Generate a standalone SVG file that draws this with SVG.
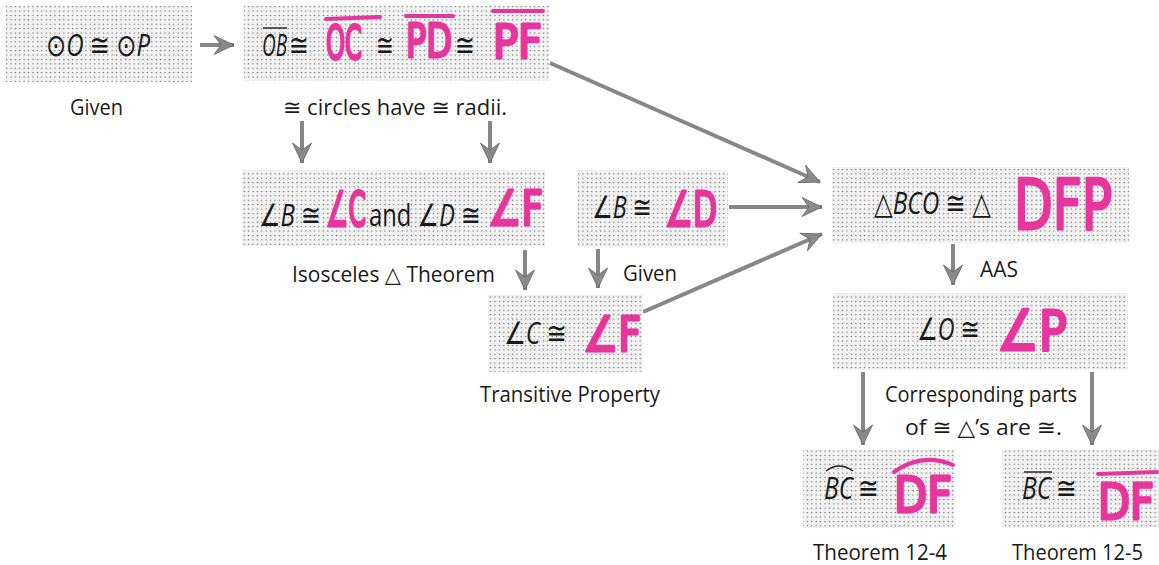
<svg xmlns="http://www.w3.org/2000/svg" width="1159" height="565" viewBox="0 0 1159 565">
<defs>
  <pattern id="dots" width="4.4" height="4.4" patternUnits="userSpaceOnUse">
    <rect width="4.4" height="4.4" fill="#f3f3f3"/>
    <circle cx="2.2" cy="2.2" r="0.75" fill="#6e6e6e"/>
  </pattern>
  <marker id="ah" markerUnits="userSpaceOnUse" viewBox="-21 -11 22 22" refX="0" refY="0" markerWidth="22" markerHeight="22" orient="auto">
    <path d="M0,0 L-20,-9.5 L-13,0 L-20,9.5 Z" fill="#8a8a8a" stroke="#666666" stroke-width="0.8"/>
  </marker>
  <style>
    .box { fill: url(#dots); }
    .lbl { font-family: "Open Sans", "Noto Sans", "DejaVu Sans", sans-serif; font-size: 22px; fill: #1a1a1a; }
    .m { font-family: "Open Sans", "DejaVu Sans", sans-serif; font-size: 31px; fill: #1a1a1a; }
    .i { font-style: italic; }
    .pk { font-family: "DejaVu Sans", "Liberation Sans", sans-serif; font-weight: normal; fill: #e6369e; stroke: #e6369e; stroke-width: 3; stroke-linejoin: round; stroke-linecap: round; }
    .pl { stroke: #e6369e; stroke-width: 4; stroke-linecap: round; fill: none; }
    .bl { stroke: #1a1a1a; stroke-width: 1.4; fill: none; }
    .conn line { stroke: #878787; stroke-width: 4; marker-end: url(#ah); }
  </style>
</defs>
<rect width="1159" height="565" fill="#ffffff"/>

<g id="connectors" class="conn">
  <line x1="200" y1="45" x2="234" y2="45"/>
  <line x1="550" y1="63" x2="820" y2="182"/>
  <line x1="302" y1="121" x2="302" y2="163"/>
  <line x1="490" y1="121" x2="490" y2="163"/>
  <line x1="525" y1="250" x2="525" y2="290"/>
  <line x1="598" y1="249" x2="598" y2="288"/>
  <line x1="729" y1="207" x2="822" y2="207"/>
  <line x1="643" y1="312" x2="822" y2="234"/>
  <line x1="953" y1="244" x2="953" y2="285"/>
  <line x1="863" y1="372" x2="863" y2="445"/>
  <line x1="1092" y1="372" x2="1092" y2="445"/>
</g>

<g id="n1">
  <rect class="box" x="6" y="6" width="186" height="76"/>
  <text class="m" x="46" y="56" textLength="104" lengthAdjust="spacingAndGlyphs">⊙<tspan class="i">O</tspan> ≅ ⊙<tspan class="i">P</tspan></text>
  <text class="lbl" x="70" y="115" textLength="53" lengthAdjust="spacingAndGlyphs">Given</text>
</g>

<g id="n2">
  <rect class="box" x="244" y="6" width="305" height="75"/>
  <line class="bl" x1="263" y1="28" x2="287" y2="28"/>
  <text class="m i" x="262" y="56" textLength="25" lengthAdjust="spacingAndGlyphs">OB</text>
  <text class="m" x="289" y="56" textLength="20" lengthAdjust="spacingAndGlyphs">≅</text>
  <line class="pl" x1="326" y1="19" x2="380" y2="17"/>
  <text class="pk" x="326" y="59" font-size="46" textLength="36" lengthAdjust="spacingAndGlyphs">OC</text>
  <text class="m" x="376" y="56" textLength="18" lengthAdjust="spacingAndGlyphs">≅</text>
  <line class="pl" x1="406" y1="16" x2="453" y2="16"/>
  <text class="pk" x="406" y="57" font-size="46" textLength="46" lengthAdjust="spacingAndGlyphs">PD</text>
  <text class="m" x="455" y="56" textLength="20" lengthAdjust="spacingAndGlyphs">≅</text>
  <line class="pl" x1="493" y1="11" x2="543" y2="11"/>
  <text class="pk" x="493" y="58" font-size="46" textLength="49" lengthAdjust="spacingAndGlyphs">PF</text>
  <text class="lbl" x="283" y="115" textLength="224" lengthAdjust="spacingAndGlyphs">≅ circles have ≅ radii.</text>
</g>

<g id="n3">
  <rect class="box" x="242" y="170" width="303" height="76"/>
  <text class="m" x="259" y="226" textLength="62" lengthAdjust="spacingAndGlyphs">∠<tspan class="i">B</tspan> ≅</text>
  <text class="pk" x="326" y="226" font-size="48" textLength="40" lengthAdjust="spacingAndGlyphs">∠C</text>
  <text class="m" x="369" y="226" textLength="112" lengthAdjust="spacingAndGlyphs">and ∠<tspan class="i">D</tspan> ≅</text>
  <text class="pk" x="488" y="225" font-size="48" textLength="55" lengthAdjust="spacingAndGlyphs">∠F</text>
  <text class="lbl" x="292" y="282" textLength="203" lengthAdjust="spacingAndGlyphs">Isosceles △ Theorem</text>
</g>

<g id="n4">
  <rect class="box" x="578" y="170" width="150" height="77"/>
  <text class="m" x="592" y="218" textLength="60" lengthAdjust="spacingAndGlyphs">∠<tspan class="i">B</tspan> ≅</text>
  <text class="pk" x="665" y="226" font-size="48" textLength="52" lengthAdjust="spacingAndGlyphs">∠D</text>
  <text class="lbl" x="623" y="281" textLength="54" lengthAdjust="spacingAndGlyphs">Given</text>
</g>

<g id="n5">
  <rect class="box" x="488" y="295" width="155" height="77"/>
  <text class="m" x="504" y="344" textLength="63" lengthAdjust="spacingAndGlyphs">∠<tspan class="i">C</tspan> ≅</text>
  <text class="pk" x="583" y="351" font-size="48" textLength="58" lengthAdjust="spacingAndGlyphs">∠F</text>
  <text class="lbl" x="480" y="402" textLength="180" lengthAdjust="spacingAndGlyphs">Transitive Property</text>
</g>

<g id="n6">
  <rect class="box" x="832" y="167" width="297" height="76"/>
  <text class="m" x="874" y="214" textLength="117" lengthAdjust="spacingAndGlyphs">△<tspan class="i">BCO</tspan> ≅ △</text>
  <text class="pk" x="1014" y="229" font-size="70" textLength="98" lengthAdjust="spacingAndGlyphs">DFP</text>
  <text class="lbl" x="980" y="277" textLength="38" lengthAdjust="spacingAndGlyphs">AAS</text>
</g>

<g id="n7">
  <rect class="box" x="833" y="293" width="295" height="77"/>
  <text class="m" x="917" y="340" textLength="63" lengthAdjust="spacingAndGlyphs">∠<tspan class="i">O</tspan> ≅</text>
  <text class="pk" x="997" y="350" font-size="56" textLength="70" lengthAdjust="spacingAndGlyphs">∠P</text>
  <text class="lbl" x="885" y="402" textLength="192" lengthAdjust="spacingAndGlyphs">Corresponding parts</text>
  <text class="lbl" x="905" y="435" textLength="157" lengthAdjust="spacingAndGlyphs">of ≅ △’s are ≅.</text>
</g>

<g id="n8">
  <rect class="box" x="803" y="450" width="152" height="78"/>
  <path class="bl" d="M826,471 Q839,461 853,471"/>
  <text class="m i" x="824" y="499" textLength="29" lengthAdjust="spacingAndGlyphs">BC</text>
  <text class="m" x="858" y="499" textLength="21" lengthAdjust="spacingAndGlyphs">≅</text>
  <path class="pl" d="M894,472 Q922,452 953,465"/>
  <text class="pk" x="894" y="512" font-size="50" textLength="58" lengthAdjust="spacingAndGlyphs">DF</text>
  <text class="lbl" x="813" y="560" textLength="134" lengthAdjust="spacingAndGlyphs">Theorem 12-4</text>
</g>

<g id="n9">
  <rect class="box" x="1002" y="450" width="157" height="78"/>
  <line class="bl" x1="1024" y1="472" x2="1052" y2="472"/>
  <text class="m i" x="1022" y="499" textLength="29" lengthAdjust="spacingAndGlyphs">BC</text>
  <text class="m" x="1056" y="499" textLength="21" lengthAdjust="spacingAndGlyphs">≅</text>
  <line class="pl" x1="1098" y1="474" x2="1157" y2="472"/>
  <text class="pk" x="1098" y="519" font-size="50" textLength="56" lengthAdjust="spacingAndGlyphs">DF</text>
  <text class="lbl" x="1012" y="560" textLength="131" lengthAdjust="spacingAndGlyphs">Theorem 12-5</text>
</g>
</svg>
